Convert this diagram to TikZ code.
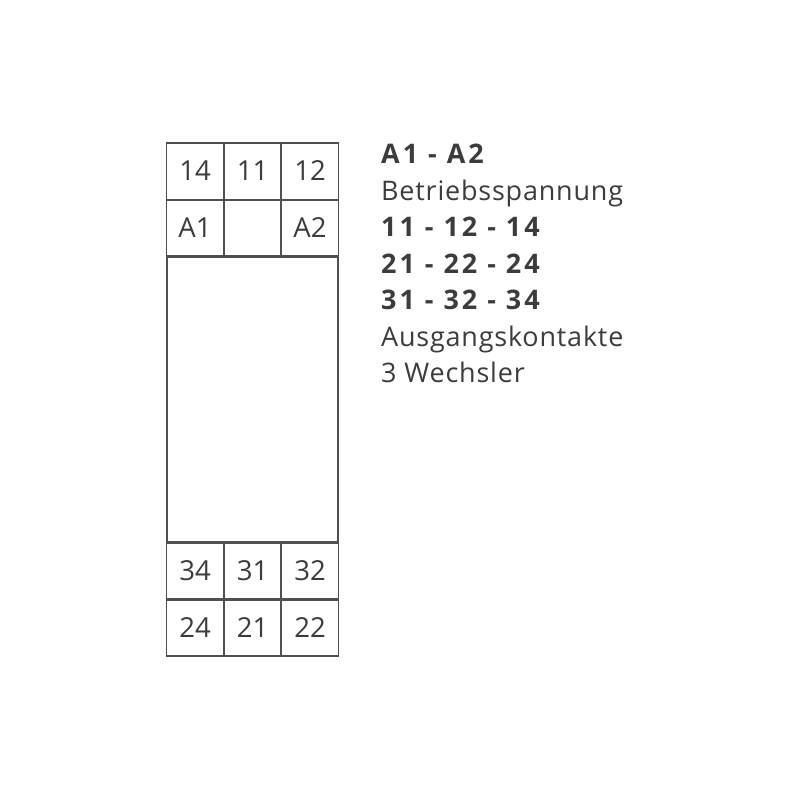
\documentclass[tikz,border=0pt]{standalone}
\usepackage{fontspec}
\setmainfont{Open Sans}
\definecolor{ink}{HTML}{3C3C3C}
\definecolor{frame}{HTML}{505050}
\begin{document}
\begin{tikzpicture}[x=0.03cm,y=-0.03cm,
    cell/.style = {draw=frame, line width=1.7pt, minimum width=1.71cm, minimum height=1.71cm, inner sep=0pt, text=ink, font=\fontsize{23.5}{26}\selectfont},
    legend/.style = {anchor=base west, inner sep=0pt, text=ink, font=\fontsize{23}{26}\selectfont\addfontfeature{LetterSpace=3}},
    legendbold/.style = {legend, font=\fontsize{23}{26}\selectfont\bfseries\addfontfeature{LetterSpace=11}}]
        \useasboundingbox (0,0) rectangle (800,800);
        % terminals top
        \node[cell] (t14) at (195,171) {14};
        \node[cell] (t11) at (252.5,171) {11};
        \node[cell] (t12) at (310,171) {12};
        \node[cell] (tA1) at (195,228) {A1};
        \node[cell] (tE) at (252.5,228) {};
        \node[cell] (tA2) at (310,228) {A2};
        % housing
        \node[cell, minimum width=5.13cm, minimum height=8.58cm] (body) at (252.5,399) {};
        % terminals bottom
        \node[cell] (t34) at (195,571) {34};
        \node[cell] (t31) at (252.5,571) {31};
        \node[cell] (t32) at (310,571) {32};
        \node[cell] (t24) at (195,627.5) {24};
        \node[cell] (t21) at (252.5,627.5) {21};
        \node[cell] (t22) at (310,627.5) {22};
        % legend
        \node[legendbold] (l1) at (381,163.5) {A1 - A2};
        \node[legend] (l2) at (381,200) {Betriebsspannung};
        \node[legendbold] (l3) at (381,236.5) {11 - 12 - 14};
        \node[legendbold] (l4) at (381,273) {21 - 22 - 24};
        \node[legendbold] (l5) at (381,309.5) {31 - 32 - 34};
        \node[legend] (l6) at (381,346) {Ausgangskontakte};
        \node[legend] (l7) at (381,382.5) {3 Wechsler};
\end{tikzpicture}
\end{document}
